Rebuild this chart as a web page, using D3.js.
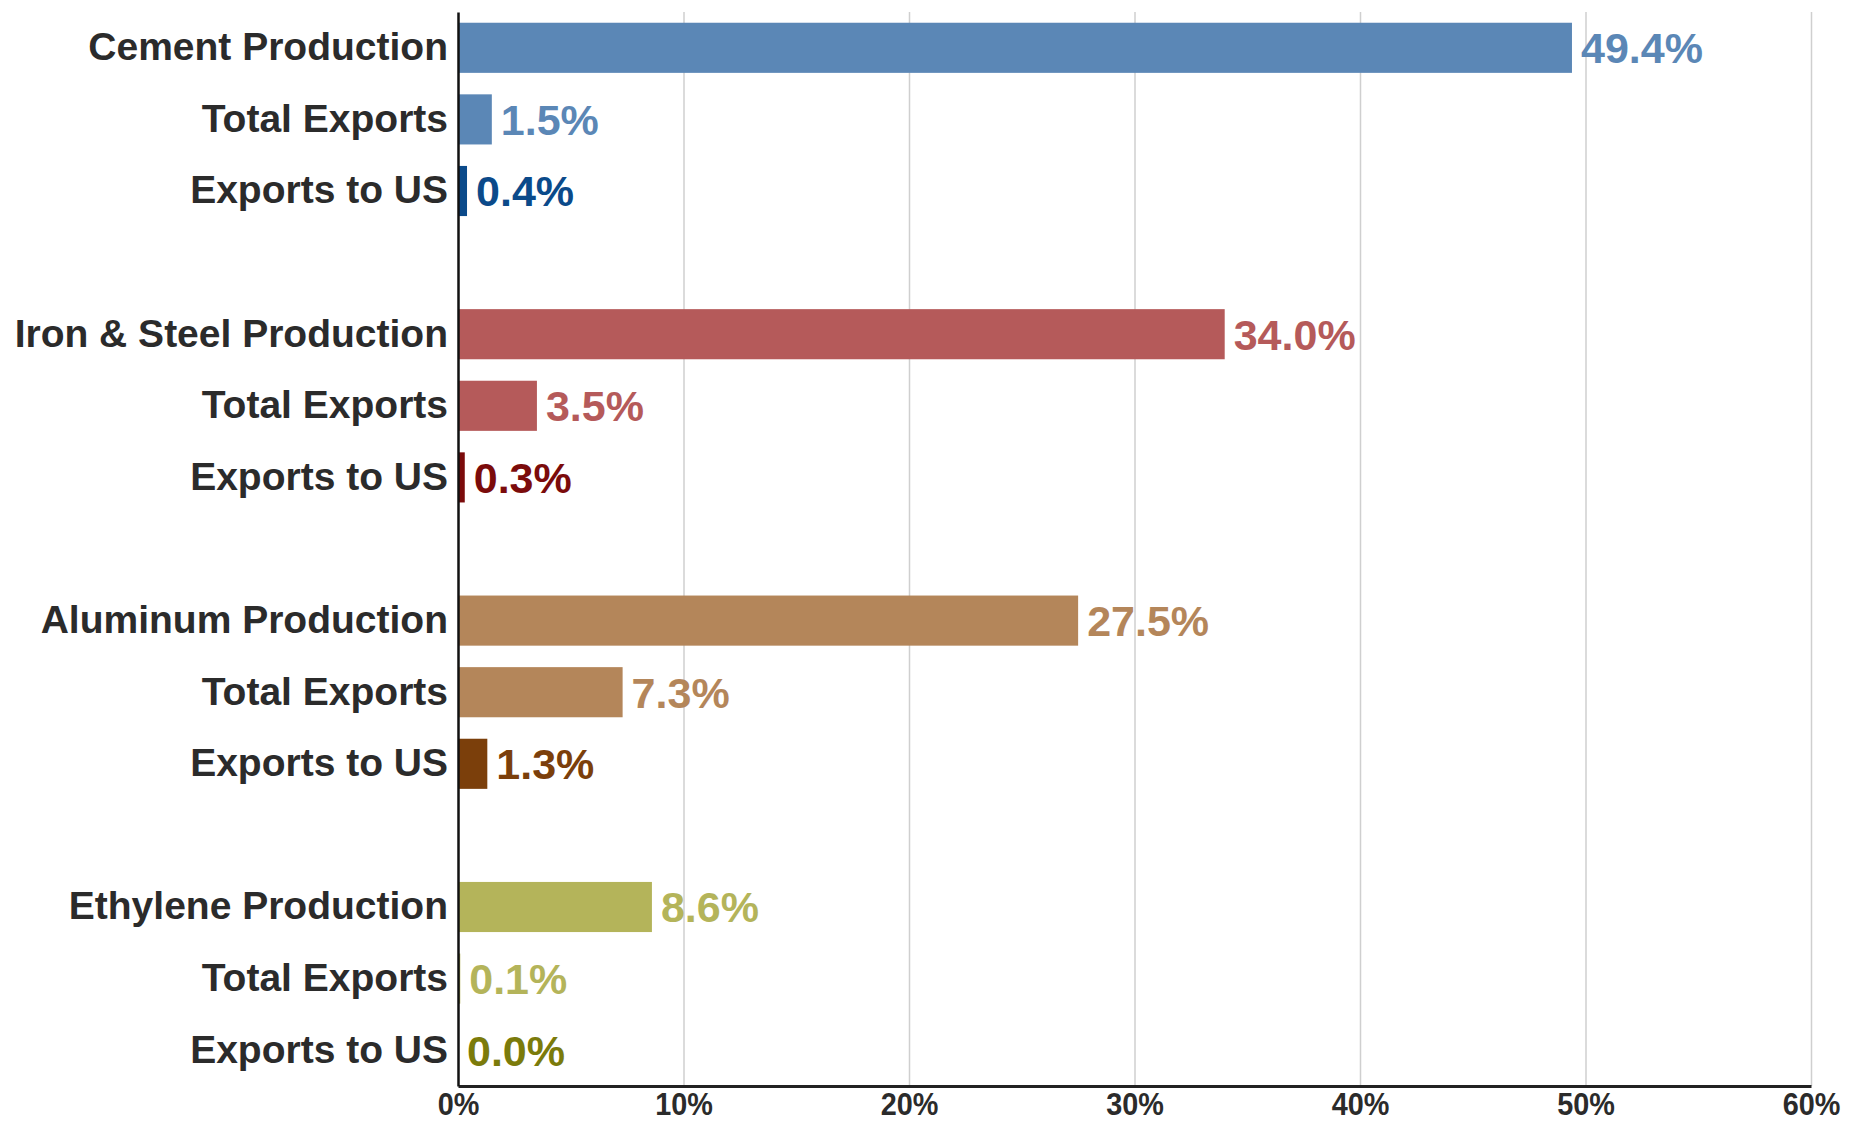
<html>

<head>
  <script src="https://d3js.org/d3.v7.min.js"></script>
</head>

<style>
  body {
    margin: 0;
    background: white;
  }

  text {
    font-family: "Liberation Sans", Arial, sans-serif;
    font-weight: bold;
  }

  .grid line {
    stroke: #cfcfcf;
    stroke-width: 1.5px;
  }

  .grid .domain {
    display: none;
  }
</style>

<body>

  <svg id="barplot" height="1124" width="1850"></svg>

  <script>

    // data
    const groups = ["Cement", "Iron & Steel", "Aluminum", "Ethylene"];
    const rowNames = ["Production", "Total Exports", "Exports to US"];
    const cementValues = [49.4, 1.5, 0.4];
    const steelValues = [34.0, 3.5, 0.3];
    const aluminumValues = [27.5, 7.3, 1.3];
    const ethyleneValues = [8.6, 0.1, 0.0];
    const lightColors = ["#5b87b6", "#b55a5a", "#b4865a", "#b4b45a"];
    const darkColors = ["#0b4a8a", "#7b0b0b", "#7b3f0b", "#7b7b0b"];
    const xTicks = [0, 10, 20, 30, 40, 50, 60];

    const svg = d3.select("svg#barplot");
    const width = +svg.attr("width");
    const height = +svg.attr("height");
    const margin = { top: 12, right: 39, bottom: 38, left: 458 };

    const allValues = [cementValues, steelValues, aluminumValues, ethyleneValues];

    // flatten into rows, with a blank spacer between groups
    let rows = [];
    let keys = [];
    groups.forEach((g, gi) => {
      rowNames.forEach((r, ri) => {
        const key = g + "|" + r;
        keys.push(key);
        rows.push({
          key: key,
          label: ri == 0 ? g + " Production" : r,
          value: allValues[gi][ri],
          color: ri == 2 ? darkColors[gi] : lightColors[gi]
        });
      });
      if (gi < groups.length - 1) keys.push("gap" + gi);
    });

    const labelOf = {};
    rows.forEach(d => labelOf[d.key] = d.label);

    const xScale = d3.scaleLinear().domain([0, 60]).range([margin.left, width - margin.right]);
    const yScale = d3.scaleBand().domain(keys)
      .range([margin.top, height - margin.bottom])
      .paddingInner(0.3).paddingOuter(0.15);

    // gridlines
    svg.append("g")
      .attr("class", "grid")
      .attr("transform", `translate(0, ${height - margin.bottom})`)
      .call(d3.axisBottom(xScale).tickValues(xTicks.slice(1)).tickSize(-(height - margin.bottom - margin.top)).tickFormat(""));

    // bars
    svg.selectAll("rect.bar")
      .data(rows)
      .join("rect")
      .attr("class", "bar")
      .attr("x", xScale(0))
      .attr("y", d => yScale(d.key))
      .attr("width", d => xScale(d.value) - xScale(0))
      .attr("height", yScale.bandwidth())
      .attr("fill", d => d.color);

    // value labels
    svg.selectAll("text.value")
      .data(rows)
      .join("text")
      .attr("class", "value")
      .attr("x", d => xScale(d.value) + 9)
      .attr("y", d => yScale(d.key) + yScale.bandwidth() / 2)
      .attr("dy", "0.36em")
      .attr("fill", d => d.color)
      .style("font-size", "43px")
      .text(d => d.value.toFixed(1) + "%");

    // bottom axis
    let bottomAxis = d3.axisBottom(xScale).tickValues(xTicks).tickSize(0).tickPadding(6).tickFormat(d => d + "%");
    let bx = svg.append("g")
      .attr("transform", `translate(0, ${height - margin.bottom})`)
      .call(bottomAxis);
    bx.select(".domain").attr("stroke", "#222").attr("stroke-width", 3);
    bx.selectAll("text")
      .style("font-size", "32px")
      .attr("fill", "#2b2b2b")
      .attr("transform", "scale(0.9,1)");

    // left axis with category names
    let leftAxis = d3.axisLeft(yScale).tickSize(0).tickPadding(10).tickFormat(k => labelOf[k] || "");
    let lx = svg.append("g")
      .attr("transform", `translate(${margin.left}, 0)`)
      .call(leftAxis);
    lx.select(".domain").attr("stroke", "#111").attr("stroke-width", 2.5);
    lx.selectAll("text").style("font-size", "39px").attr("fill", "#2b2b2b");

  </script>

</body>

</html>
